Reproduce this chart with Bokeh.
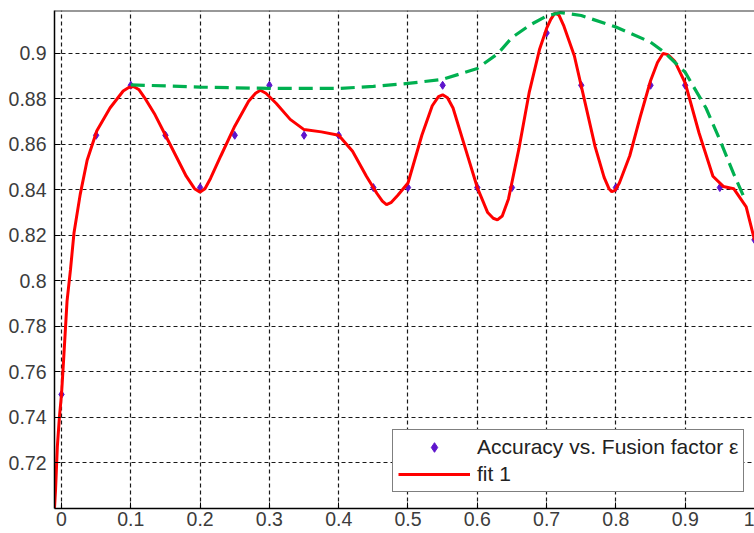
from bokeh.plotting import figure
from bokeh.models import Legend, LegendItem, FixedTicker, Range1d, Span
from bokeh.embed import file_html
from bokeh.resources import INLINE

# ---- data ----
pt_x = [0.0, 0.05, 0.1, 0.15, 0.2, 0.25, 0.3, 0.35, 0.4, 0.45, 0.5,
        0.55, 0.6, 0.65, 0.7, 0.75, 0.8, 0.85, 0.9, 0.95, 1.0]
pt_y = [0.750, 0.864, 0.886, 0.864, 0.841, 0.864, 0.886, 0.864, 0.864, 0.841, 0.841,
        0.886, 0.841, 0.841, 0.909, 0.886, 0.841, 0.886, 0.886, 0.841, 0.818]

fit_x = [-0.0101, -0.0086, -0.006, -0.003, 0.0, 0.003, 0.008, 0.013, 0.018, 0.027,
         0.037, 0.051, 0.07, 0.089, 0.097, 0.104, 0.112, 0.12, 0.135, 0.15, 0.165, 0.18,
         0.192, 0.2, 0.207, 0.215, 0.23, 0.25, 0.27, 0.28, 0.287, 0.295, 0.31, 0.33, 0.35, 0.375,
         0.4, 0.42, 0.44, 0.455, 0.463, 0.469, 0.476, 0.485, 0.5, 0.52, 0.535, 0.544, 0.55,
         0.557, 0.565, 0.58, 0.6, 0.615, 0.623, 0.629, 0.636, 0.645, 0.66, 0.675, 0.69, 0.70,
         0.706, 0.712, 0.718, 0.725, 0.74, 0.755, 0.77, 0.783, 0.79, 0.794, 0.799, 0.805, 0.82, 0.835,
         0.85, 0.86, 0.868, 0.875, 0.885, 0.9, 0.92, 0.94, 0.955, 0.97, 0.988, 0.995, 1.0]
fit_y = [0.700, 0.708, 0.727, 0.740, 0.750, 0.765, 0.791, 0.805, 0.821, 0.838,
         0.853, 0.866, 0.876, 0.8835, 0.885, 0.8855, 0.884, 0.8805, 0.873, 0.864, 0.855, 0.846,
         0.8405, 0.839, 0.8405, 0.845, 0.855, 0.868, 0.879, 0.8825, 0.8838, 0.8825, 0.878, 0.871, 0.8665, 0.8655,
         0.864, 0.857, 0.846, 0.8385, 0.835, 0.8335, 0.8345, 0.8375, 0.843, 0.864, 0.877, 0.881, 0.8818,
         0.8805, 0.876, 0.861, 0.841, 0.830, 0.8275, 0.8268, 0.8285, 0.836, 0.858, 0.883, 0.902, 0.911,
         0.915, 0.9178, 0.9168, 0.912, 0.899, 0.879, 0.859, 0.8455, 0.8405, 0.8392, 0.8398, 0.843, 0.855, 0.872,
         0.888, 0.896, 0.9, 0.8995, 0.8965, 0.887, 0.865, 0.846, 0.8415, 0.8405, 0.8325, 0.824, 0.818]

env_x = [0.1, 0.2, 0.3, 0.4, 0.45, 0.5, 0.55, 0.6, 0.63, 0.65, 0.676,
         0.7, 0.72, 0.75, 0.8, 0.85, 0.87, 0.9, 0.93, 0.95, 0.97, 0.985]
env_y = [0.8862, 0.8852, 0.8846, 0.8846, 0.8855, 0.8868, 0.8886, 0.8934, 0.900, 0.907, 0.9125,
         0.9165, 0.918, 0.9167, 0.9116, 0.905, 0.9005, 0.8917, 0.876, 0.862, 0.847, 0.8366]

x_ticks = [0.0, 0.1, 0.2, 0.3, 0.4, 0.5, 0.6, 0.7, 0.8, 0.9, 1.0]
x_tick_labels = ["0", "0.1", "0.2", "0.3", "0.4", "0.5", "0.6", "0.7", "0.8", "0.9", "1"]
y_ticks = [0.72, 0.74, 0.76, 0.78, 0.80, 0.82, 0.84, 0.86, 0.88, 0.90]
y_tick_labels = ["0.72", "0.74", "0.76", "0.78", "0.8", "0.82", "0.84", "0.86", "0.88", "0.9"]

legend_labels = ["Accuracy vs. Fusion factor \u03b5", "fit 1"]

# ---- figure ----
p = figure(width=754, height=533, output_backend="svg", toolbar_location=None,
           x_range=Range1d(-0.0101, 1.0), y_range=Range1d(0.6998, 0.9189),
           min_border_left=54, min_border_right=0, min_border_top=10, min_border_bottom=25,
           background_fill_color="white", border_fill_color="white")
p.outline_line_color = None

font = "Liberation Sans"
for ax in (p.xaxis[0], p.yaxis[0]):
    ax.axis_line_color = "black"
    ax.axis_line_width = 1.5
    ax.major_tick_in = 6
    ax.major_tick_out = 0
    ax.minor_tick_line_color = None
    ax.major_tick_line_color = "black"
    ax.major_label_text_font = font
    ax.major_label_text_font_size = "19.5px"
    ax.major_label_text_color = "#3c3c3c"

p.xaxis.ticker = FixedTicker(ticks=x_ticks)
p.xaxis.major_label_overrides = {t: l for t, l in zip(x_ticks, x_tick_labels)}
p.xaxis.major_label_standoff = 3
p.yaxis.ticker = FixedTicker(ticks=y_ticks)
p.yaxis.major_label_overrides = {t: l for t, l in zip(y_ticks, y_tick_labels)}
p.yaxis.major_label_standoff = 8

for g in (p.xgrid[0], p.ygrid[0]):
    g.grid_line_color = "black"
    g.grid_line_dash = "4 3"
    g.grid_line_width = 1.2
    g.grid_line_alpha = 0.9

top_line = Span(location=0.9189, dimension="width", line_color="#333333", line_width=2)
p.add_layout(top_line)

pts = p.scatter(pt_x, pt_y, marker="diamond", size=8, fill_color="#5e14cc",
                line_color="#5e14cc")
fit = p.line(fit_x, fit_y, line_color="#ff0000", line_width=3)
p.line(env_x, env_y, line_color="#00b050", line_width=3.2, line_dash="14 7")

legend = Legend(items=[LegendItem(label=legend_labels[0], renderers=[pts]),
                       LegendItem(label=legend_labels[1], renderers=[fit])],
                location=(338, 16))
legend.label_text_font = font
legend.label_text_font_size = "21px"
legend.label_text_color = "#222222"
legend.glyph_width = 72
legend.glyph_height = 24
legend.label_height = 24
legend.padding = 5
legend.spacing = 3
legend.label_standoff = 7
legend.margin = 0
legend.border_line_color = "black"
legend.border_line_width = 1.5
legend.background_fill_color = "white"
legend.background_fill_alpha = 1.0
p.add_layout(legend, "center")

open("out.html", "w").write(file_html(p, INLINE))
